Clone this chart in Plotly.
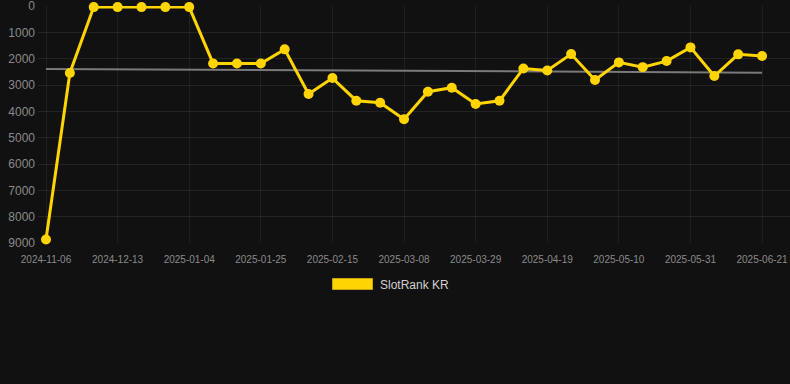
import plotly.graph_objects as go

dates = ["2024-11-06", "2024-11-20", "2024-12-06", "2024-12-13", "2024-12-21", "2024-12-28",
         "2025-01-04", "2025-01-11", "2025-01-18", "2025-01-25", "2025-02-01", "2025-02-08",
         "2025-02-15", "2025-02-22", "2025-03-01", "2025-03-08", "2025-03-15", "2025-03-22",
         "2025-03-29", "2025-04-05", "2025-04-12", "2025-04-19", "2025-04-26", "2025-05-03",
         "2025-05-10", "2025-05-17", "2025-05-24", "2025-05-31", "2025-06-07", "2025-06-14",
         "2025-06-21"]
ranks = [8870, 2540, 40, 40, 40, 40, 40, 2180, 2180, 2180, 1645, 3340, 2735, 3595, 3670,
         4300, 3255, 3100, 3720, 3600, 2370, 2445, 1825, 2810, 2140, 2320, 2090, 1570,
         2660, 1835, 1900]
trend_ends = [2390, 2530]
tick_labels = dates[::3]
y_ticks = [0, 1000, 2000, 3000, 4000, 5000, 6000, 7000, 8000, 9000]
series_name = "SlotRank KR"

gold = "#FFD400"

fig = go.Figure()
fig.add_trace(go.Scatter(
    x=[dates[0], dates[-1]], y=trend_ends, mode="lines",
    line=dict(color="#7a7a7a", width=2), showlegend=False, hoverinfo="skip"))
fig.add_trace(go.Scatter(
    x=dates, y=ranks, mode="lines+markers", name=series_name,
    line=dict(color=gold, width=3),
    marker=dict(color=gold, size=10),
    cliponaxis=False, showlegend=False))

# manual legend
fig.add_shape(type="rect", xref="paper", yref="paper",
              x0=(332.5 - 38) / 752, x1=(372.5 - 38) / 752,
              y0=(243 - 289.5) / 237, y1=(243 - 278.5) / 237,
              fillcolor=gold, line=dict(color="#c9a400", width=1))
fig.add_annotation(text=series_name, xref="paper", yref="paper",
                   x=(378 - 38) / 752, y=(243 - 284.5) / 237,
                   xanchor="left", yanchor="middle", showarrow=False,
                   font=dict(family="Arial, Liberation Sans, sans-serif", size=12, color="#d0d0d0"))

fig.update_layout(
    width=790, height=384,
    paper_bgcolor="#111111", plot_bgcolor="#111111",
    margin=dict(l=38, r=0, t=6, b=141),
    font=dict(family="Arial, Liberation Sans, sans-serif", color="#8a8a8a"),
    showlegend=False,
    xaxis=dict(type="category", categoryorder="array", categoryarray=dates,
               range=[-0.335, 31.17],
               tickmode="array", tickvals=tick_labels, ticktext=tick_labels,
               tickfont=dict(size=10, color="#8a8a8a"),
               showgrid=True, gridcolor="rgba(255,255,255,0.06)", gridwidth=1,
               zeroline=False, showline=False, ticks="", ticklabelstandoff=9),
    yaxis=dict(range=[9000, -2], tickvals=y_ticks,
               tickfont=dict(size=12, color="#8a8a8a"),
               showgrid=True, gridcolor="rgba(255,255,255,0.08)", gridwidth=1,
               zeroline=False, showline=False, ticks="", ticklabelstandoff=2,
               ticklabeloverflow="allow"),
)

fig.write_html("out.html", config={"displayModeBar": False},
               post_script="document.body.style.margin='0';document.body.style.padding='0';document.body.style.background='#111111';")
